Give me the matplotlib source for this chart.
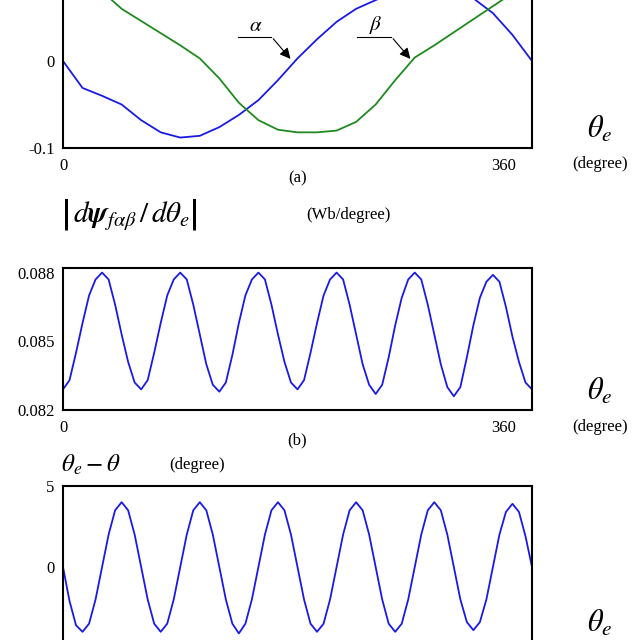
import numpy as np
import matplotlib.pyplot as plt

plt.rcParams['font.family'] = ['Liberation Serif', 'DejaVu Serif']
plt.rcParams['mathtext.fontset'] = 'stix'

# panel (a): flux components, sampled every 15 degrees
theta_a = np.arange(0, 361, 15)
alpha = [0, -0.031, -0.040, -0.050, -0.068, -0.082, -0.088, -0.086, -0.076, -0.062,
         -0.045, -0.022, 0.003, 0.025, 0.045, 0.060, 0.070, 0.080, 0.085, 0.085,
         0.080, 0.072, 0.055, 0.030, 0]
beta = [0.095, 0.090, 0.080, 0.060, 0.046, 0.032, 0.018, 0.003, -0.020, -0.048,
        -0.068, -0.079, -0.082, -0.082, -0.080, -0.070, -0.050, -0.022, 0.004,
        0.018, 0.033, 0.048, 0.063, 0.078, 0.090]

# panel (b): |d psi / d theta_e|, every 5 degrees
theta_b = np.arange(0, 361, 5)
dpsi = [0.0829, 0.0833, 0.0845, 0.0858, 0.0870, 0.0877, 0.0880, 0.0877, 0.0866, 0.0853, 0.0841, 0.0832,
        0.0829, 0.0833, 0.0845, 0.0858, 0.0870, 0.0877, 0.0880, 0.0877, 0.0866, 0.0853, 0.0840, 0.0831,
        0.0828, 0.0832, 0.0844, 0.0858, 0.0870, 0.0877, 0.0880, 0.0877, 0.0866, 0.0853, 0.0841, 0.0832,
        0.0829, 0.0833, 0.0845, 0.0858, 0.0870, 0.0877, 0.0880, 0.0877, 0.0866, 0.0853, 0.0840, 0.0831,
        0.0827, 0.0831, 0.0843, 0.0857, 0.0869, 0.0877, 0.0880, 0.0877, 0.0866, 0.0853, 0.0840, 0.0830,
        0.0826, 0.0830, 0.0843, 0.0857, 0.0869, 0.0876, 0.0879, 0.0876, 0.0865, 0.0852, 0.0841, 0.0832,
        0.0829]

# panel (c): theta_e - theta, every 5 degrees
theta_c = np.arange(0, 361, 5)
err = [0, -2.1, -3.6, -4.0, -3.5, -2.0, 0, 2.0, 3.5, 4.0, 3.5, 2.0,
       0, -2.0, -3.5, -4.0, -3.5, -2.0, 0, 2.0, 3.5, 4.0, 3.5, 2.0,
       0, -2.0, -3.5, -4.1, -3.5, -2.0, 0, 2.0, 3.5, 4.0, 3.5, 2.0,
       0, -2.0, -3.5, -4.0, -3.5, -2.0, 0, 2.0, 3.5, 4.0, 3.5, 2.0,
       0, -2.0, -3.5, -4.0, -3.5, -2.0, 0, 2.0, 3.5, 4.0, 3.5, 2.0,
       0, -2.0, -3.4, -3.9, -3.4, -2.0, 0, 2.0, 3.4, 3.9, 3.4, 1.9,
       0]

blue = '#1a1ae6'
green = '#1f8a1f'

fig = plt.figure(figsize=(6.4, 6.4), dpi=100)
x0, w = 63 / 640, 469 / 640


def panel(bottom_px, top_px):
    ax = fig.add_axes([x0, 1 - bottom_px / 640, w, (bottom_px - top_px) / 640])
    ax.set_xlim(0, 360)
    ax.set_xticks([])
    ax.tick_params(axis='y', length=0, labelsize=12, pad=6)
    for s in ax.spines.values():
        s.set_linewidth(1.5)
    return ax


def x_labels(ax, tag, hpx):
    d = 10 / hpx
    ax.text(0, -d, '0', transform=ax.transAxes, ha='center', va='top', fontsize=12)
    ax.text(0.965, -d, '360', transform=ax.transAxes, ha='right', va='top', fontsize=12)
    ax.text(1.145, -d + 0.01, '(degree)', transform=ax.transAxes, ha='center', va='top', fontsize=12)
    ax.text(1.145, 18 / hpx, r'$\theta_e$', transform=ax.transAxes, ha='center', va='center', fontsize=22)
    if tag:
        ax.text(0.5, -22 / hpx, tag, transform=ax.transAxes, ha='center', va='top', fontsize=12)


ax1 = panel(148, -26)
ax1.plot(theta_a, alpha, color=blue, lw=1.3)
ax1.plot(theta_a, beta, color=green, lw=1.3)
ax1.set_ylim(-0.1, 0.1)
ax1.set_yticks([-0.1, 0])
ax1.set_yticklabels(['-0.1', '0'])
x_labels(ax1, '(a)', 174)
for l0, l1, px, lab in [(134, 160, 176, r'$\alpha$'), (226, 252, 268, r'$\beta$')]:
    ax1.plot([l0, l1], [0.028, 0.028], color='k', lw=0.8)
    ax1.annotate('', xy=(px, 0.0), xytext=(l1, 0.028),
                 arrowprops=dict(arrowstyle='-|>', color='k', lw=0.8, mutation_scale=16))
    ax1.text((l0 + l1) / 2 + 1, 0.029, lab, ha='center', va='bottom', fontsize=15)

ax2 = panel(410, 268)
ax2.plot(theta_b, dpsi, color=blue, lw=1.3)
ax2.set_ylim(0.082, 0.0882)
ax2.set_yticks([0.082, 0.085, 0.088])
ax2.set_yticklabels(['0.082', '0.085', '0.088'])
x_labels(ax2, '(b)', 142)
fig.text(0.095, 0.664, r'$\left|\,d\boldsymbol{\psi}_{f\alpha\beta}\,/\,d\theta_e\right|$',
         fontsize=21, va='center')
fig.text(0.478, 0.664, '(Wb/degree)', fontsize=12, va='center')

ax3 = panel(648, 486)
ax3.plot(theta_c, err, color=blue, lw=1.3)
ax3.set_ylim(-5, 5)
ax3.set_yticks([0, 5])
ax3.set_yticklabels(['0', '5'])
ax3.text(1.145, 0.15, r'$\theta_e$', transform=ax3.transAxes, ha='center', va='center', fontsize=22)
fig.text(0.095, 0.273, r'$\theta_e-\theta$', fontsize=18, va='center')
fig.text(0.265, 0.273, '(degree)', fontsize=12, va='center')

fig.savefig('out.png', dpi=100)
